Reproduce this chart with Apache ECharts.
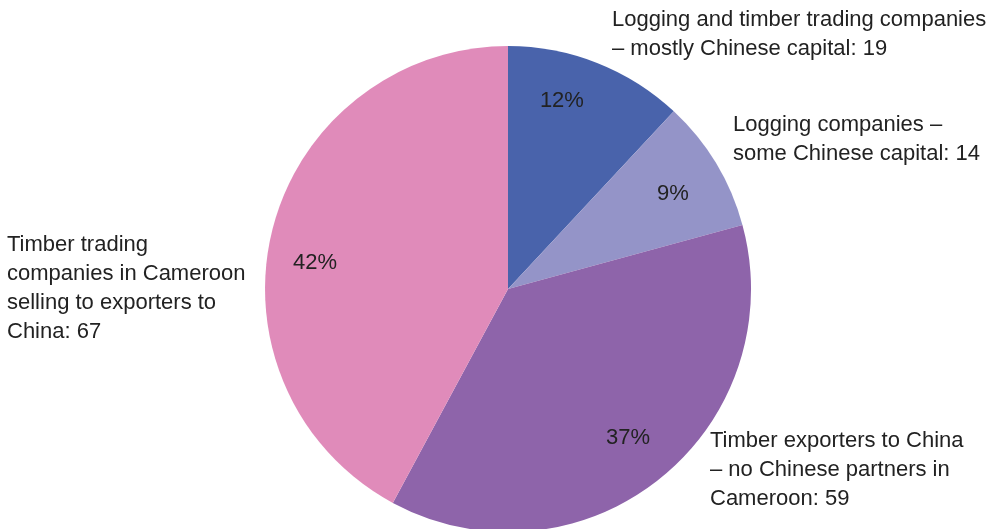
<!DOCTYPE html>
<html>
<head>
<meta charset="utf-8">
<style>
  html, body { margin: 0; padding: 0; background: #fff; }
  #chart { width: 1006px; height: 529px; }
</style>
<script src="https://cdn.jsdelivr.net/npm/echarts@6/dist/echarts.min.js"></script>
</head>
<body>
<div id="chart"></div>
<script>
// Companies by type of involvement with China (counts)
const categories = [
  'Logging and timber trading companies\n\u2013 mostly Chinese capital',
  'Logging companies \u2013\nsome Chinese capital',
  'Timber exporters to China\n\u2013 no Chinese partners in\nCameroon',
  'Timber trading\ncompanies in Cameroon\nselling to exporters to\nChina'
];
const values = [19, 14, 59, 67];
const colors = ['#4963ab', '#9494c8', '#8e64aa', '#e08bba'];

// Where each callout text sits (left edge, top)
const calloutAnchors = [[612, 6], [733, 111], [710, 427], [7, 231]];
// Small nudges for the percentage labels inside the slices
const pctNudge = [[-18, -6], [-3, 6], [-2, -4], [-3, 22]];

const FONT = '"Liberation Sans", Arial, sans-serif';
const center = ['50.5%', 289];
const radius = 243;

const data = categories.map((name, i) => ({
  name, value: values[i], itemStyle: { color: colors[i] }
}));

const chart = echarts.init(document.getElementById('chart'), null, { renderer: 'canvas' });
chart.setOption({
  animation: false,
  backgroundColor: '#ffffff',
  series: [
    {
      type: 'pie',
      center: center,
      radius: [0, radius],
      startAngle: 90,
      clockwise: true,
      silent: true,
      label: { show: false },
      labelLine: { show: false },
      data: data
    },
    {
      // transparent ring that carries the percentage labels near the rim
      type: 'pie',
      center: center,
      radius: [143, radius],
      startAngle: 90,
      clockwise: true,
      silent: true,
      percentPrecision: 0,
      itemStyle: { color: 'rgba(0,0,0,0)' },
      label: {
        show: true,
        position: 'inside',
        formatter: '{d}%',
        fontFamily: FONT,
        fontSize: 22,
        color: '#222222'
      },
      labelLine: { show: false },
      labelLayout: (p) => ({ dx: pctNudge[p.dataIndex][0], dy: pctNudge[p.dataIndex][1] }),
      data: values.map((v, i) => ({ name: categories[i], value: v }))
    }
  ],
  graphic: categories.map((name, i) => ({
    type: 'text',
    left: calloutAnchors[i][0],
    top: calloutAnchors[i][1],
    style: {
      text: name + ': ' + values[i],
      fontFamily: FONT,
      fontSize: 22,
      lineHeight: 28.7,
      fill: '#222222',
      textAlign: 'left'
    }
  }))
});
</script>
</body>
</html>
